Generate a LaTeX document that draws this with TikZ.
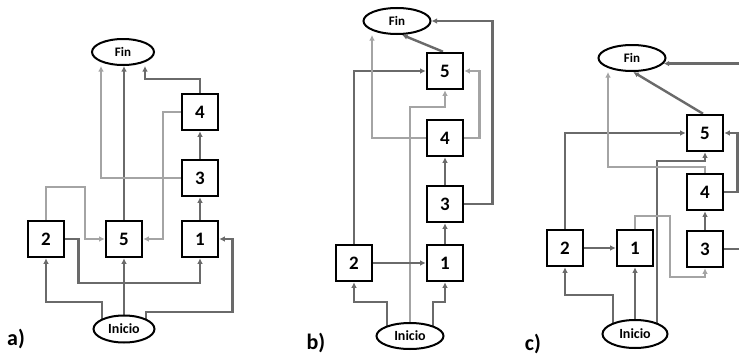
\documentclass[tikz,border=0pt]{standalone}
\usepackage{fontspec}
\setmainfont{Carlito}[BoldFont={Carlito Bold}]
\usetikzlibrary{shapes.geometric,arrows.meta,calc}
\pgfdeclarelayer{back}
\pgfdeclarelayer{bg}
\pgfsetlayers{back,bg,main}
\definecolor{dkgray}{HTML}{6A6A6A}
\definecolor{ltgray}{HTML}{A4A4A4}
\tikzset{
  box/.style={draw=black, line width=2.6pt, minimum size=36pt, inner sep=0pt, fill=white, font=\fontsize{19}{19}\selectfont\bfseries},
  term/.style={ellipse, draw=black, line width=2pt, minimum width=64pt, minimum height=26pt, inner sep=0pt, fill=white},
  finlbl/.style={font=\fontsize{13}{13}\selectfont\bfseries},
  inilbl/.style={font=\fontsize{14}{14}\selectfont\bfseries},
  panel/.style={font=\fontsize{22}{22}\selectfont\bfseries, inner sep=0pt},
  dk/.style={draw=dkgray, line width=2.4pt, -{Latex[length=5.5pt,width=5.5pt]}},
  lt/.style={draw=ltgray, line width=2.4pt, -{Latex[length=5.5pt,width=5.5pt]}},
  plain/.style={draw=dkgray, line width=2.4pt}
}
\begin{document}
\begin{tikzpicture}[x=1pt,y=-1pt]
\useasboundingbox (0,0) rectangle (739,364);
\begin{pgfonlayer}{back}
\fill[white] (0,0) rectangle (739,364);
\end{pgfonlayer}
% ---------------- panel a ----------------
\node[term, finlbl, minimum width=62pt] (fa) at (123,52) {Fin};
\node[box] (a4) at (200,112) {4};
\node[box] (a3) at (200,178) {3};
\node[box] (a2) at (46,239) {2};
\node[box] (a5) at (124,239) {5};
\node[box] (a1) at (200,239) {1};
\node[term, inilbl, minimum width=61pt, minimum height=27pt] (ia) at (124,329) {Inicio};
\node[panel] (la) at (16,339) {a)};
% ---------------- panel b ----------------
\node[term, finlbl, minimum width=67pt] (fb) at (397,21) {Fin};
\node[box] (b5) at (445,71) {5};
\node[box] (b4) at (445,138) {4};
\node[box] (b3) at (445,204) {3};
\node[box] (b1) at (445,263) {1};
\node[box] (b2) at (354,263) {2};
\node[term, inilbl, minimum width=67pt] (ib) at (410,336) {Inicio};
\node[panel] (lb) at (316,343) {b)};
% ---------------- panel c ----------------
\node[term, finlbl, minimum width=67pt] (fc) at (632,58) {Fin};
\node[box] (c5) at (705,133) {5};
\node[box] (c4) at (705,192) {4};
\node[box] (c3) at (705,249) {3};
\node[box] (c1) at (635,248) {1};
\node[box] (c2) at (565,248) {2};
\node[term, inilbl, minimum width=65pt, minimum height=28pt] (ic) at (635,334) {Inicio};
\node[panel] (lc) at (533,344) {c)};
\coordinate (cedge) at (739,0);

\begin{pgfonlayer}{bg}
% a
\draw[dk] ($(ia)+(-22,0)$) -- ++(0,-27) -| (a2.south);
\draw[dk] (ia) -- (a5.south);
\draw[dk] ($(ia)+(22,0)$) |- ($(a1.east)+(13,73)$) |- (a1.east);
\draw[dk] (a2.east) -- ++(13,0) -- ++(0,44) -| (a1.south);
\draw[lt] (a2.north) -- ++(0,-33) -| ($(a5.west)+(-20,0)$) -- (a5.west);
\draw[dk] (a5.north) -- (a5.north |- fa.south);
\draw[dk] (a1.north) -- (a3.south);
\draw[dk] (a3.north) -- (a4.south);
\draw[lt] (a3.west) -| ($(fa.south)+(-22,0)$);
\draw[lt] (a4.west) -- ++(-18,0) |- (a5.east);
\draw[dk] (a4.north) -- ++(0,-14) -| ($(fa.south)+(22,0)$);
% b
\draw[dk] ($(ib)+(-23,0)$) -- ++(0,-34) -| (b2.south);
\draw[dk] ($(ib)+(23,0)$) -- ++(0,-34) -| (b1.south);
\draw[lt] (ib) -- ++(0,-229) -| (b5.south);
\draw[dk] (b2.east) -- (b1.west);
\draw[dk] (b2.north) |- (b5.west);
\draw[dk] (b1.north) -- (b3.south);
\draw[dk] (b3.north) -- (b4.south);
\draw[dk] (b3.east) -- ++(28,0) |- (fb.east);
\draw[lt] (b4.east) -- ++(15,0) |- (b5.east);
\draw[lt] (b4.west) -| ($(fb.south)+(-25,0)$);
\draw[dk] ($(b5.north)+(-2,0)$) -- (fb.-70);
% c
\draw[dk] ($(ic)+(-22,0)$) -- ++(0,-39) -| (c2.south);
\draw[dk] (ic) -- (c1.south);
\draw[dk] ($(ic)+(22,0)$) -- ++(0,-173) -| (c5.south);
\draw[dk] (c2.east) -- (c1.west);
\draw[dk] (c2.north) |- (c5.west);
\draw[lt] (c1.north) -- ++(0,-13) -- ++(35,0) -- ++(0,61) -| (c3.south);
\draw[dk] (c3.north) -- (c4.south);
\draw[plain] (c3.east) -- (c3.east -| cedge);
\draw[dk] (c4.east) -- ++(13,0) |- (c5.east);
\draw[lt] (c4.north) -- ++(0,-6) -| ($(fc.south)+(-24,0)$);
\draw[dk] ($(c5.north)+(-2,0)$) -- (fc.-85);
\draw[dk] (cedge |- fc.-10) -- (fc.-10);
\end{pgfonlayer}
\end{tikzpicture}
\end{document}
